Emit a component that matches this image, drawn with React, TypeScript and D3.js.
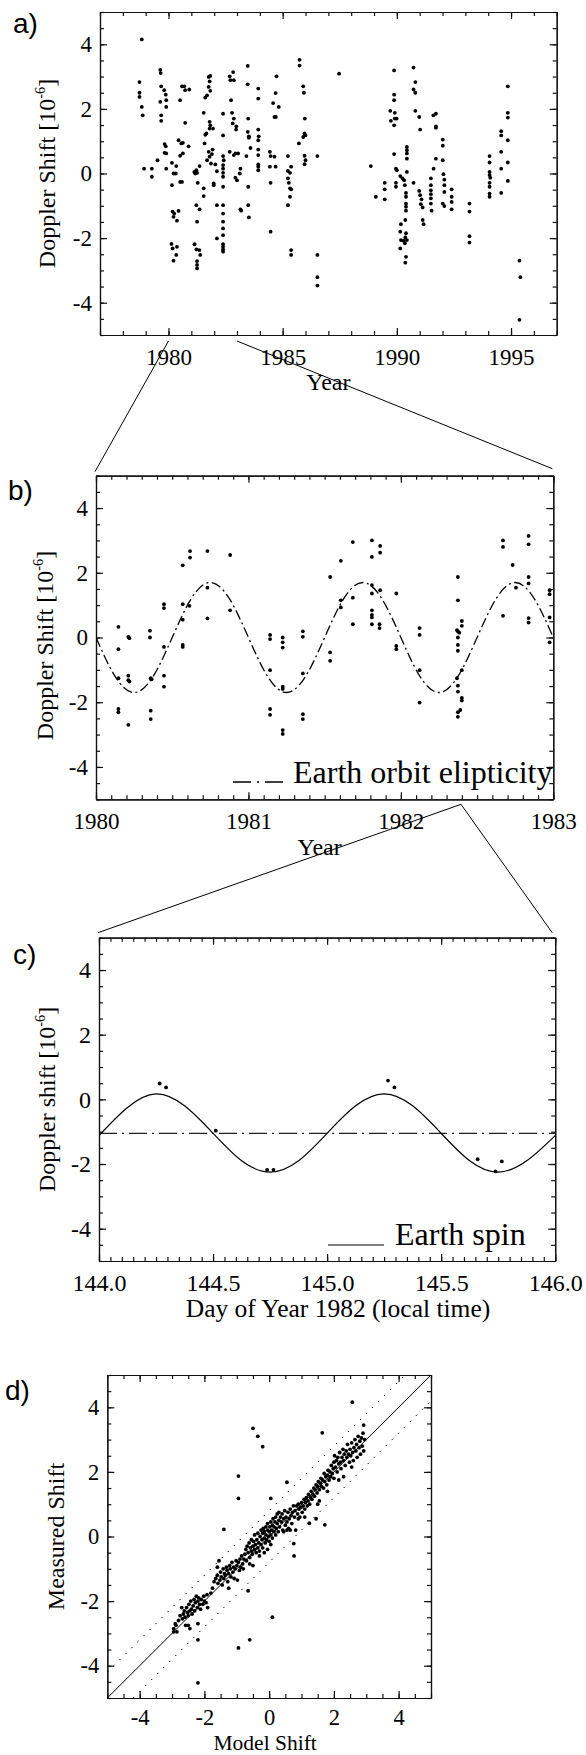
import { useEffect, useRef } from 'react';
import * as d3 from 'd3';

const WIDTH = 586;
const HEIGHT = 1755;
const SERIF = '"Liberation Serif", "Times New Roman", serif';
const SANS = '"Liberation Sans", Arial, sans-serif';

type Pt = [number, number];

// a) all observations, year vs doppler shift
const pointsA: Pt[] = [
  [1978.83, 4.15], [1978.73, 2.83], [1978.73, 2.5], [1978.73, 2.37], [1978.83, 2.06], [1978.87, 1.8],
  [1978.93, 0.15], [1979.27, 0.15], [1979.27, -0.1], [1979.52, 0.41], [1979.64, 3.21], [1979.66, 3.11],
  [1979.68, 2.7], [1979.64, 2.22], [1979.68, 1.8], [1979.68, 1.63], [1979.81, 2.58], [1979.88, 2.44],
  [1979.9, 2.27], [1979.9, 2.06], [1979.83, 0.91], [1979.88, 0.84], [1979.83, 0.64], [1979.9, 0.62],
  [1979.9, 0.15], [1980.15, 0.33], [1980.15, -0.36], [1980.22, 0.0], [1980.34, 0.23], [1980.32, 0.0],
  [1980.18, -1.18], [1980.25, -1.24], [1980.22, -1.34], [1980.37, -1.46], [1980.44, -1.16], [1980.13, -2.18],
  [1980.18, -2.32], [1980.37, -2.27], [1980.34, -2.52], [1980.22, -2.7], [1980.44, 1.03], [1980.56, 0.93],
  [1980.63, 0.95], [1980.51, -0.26], [1980.59, -0.26], [1980.51, 0.55], [1980.63, 0.62], [1980.59, 2.7],
  [1980.69, 2.7], [1980.73, 2.58], [1980.51, 2.27], [1980.73, 1.57], [1980.88, 0.84], [1980.91, 2.6],
  [1981.13, 0.05], [1981.17, 0.0], [1981.22, 0.1], [1981.25, 0.02], [1981.28, -0.29], [1981.22, -0.98],
  [1981.25, -1.49], [1981.14, -2.19], [1981.22, -2.35], [1981.35, -2.37], [1981.25, -2.71], [1981.25, -2.83],
  [1981.25, -2.94], [1981.36, -1.11], [1981.36, 0.23], [1981.39, -2.52], [1981.54, -0.46], [1981.54, -0.7],
  [1981.54, 1.88], [1981.61, 2.35], [1981.61, 1.2], [1981.66, 1.24], [1981.58, 0.93], [1981.69, 2.42],
  [1981.76, 2.99], [1981.8, 2.85], [1981.83, 3.02], [1981.76, 2.68], [1981.83, 2.56], [1981.8, 1.6],
  [1981.83, 1.49], [1981.8, 1.39], [1981.95, 1.39], [1981.69, 0.41], [1981.76, 0.67], [1981.8, 0.52],
  [1981.86, 0.31], [1981.93, 0.74], [1981.9, 0.6], [1981.98, -0.31], [1981.98, -0.36], [1982.05, 0.28],
  [1982.12, 0.07], [1982.12, -0.98], [1982.12, -2.01], [1982.39, 1.85], [1982.39, 1.18], [1982.39, 0.54],
  [1982.42, 0.41], [1982.39, 0.26], [1982.39, 0.15], [1982.39, 0.02], [1982.39, -0.1], [1982.39, -0.41],
  [1982.39, -0.98], [1982.39, -1.24], [1982.39, -1.49], [1982.39, -1.7], [1982.39, -1.91], [1982.39, -2.19],
  [1982.39, -2.27], [1982.39, -2.35], [1982.39, -2.42], [1982.68, 3.01], [1982.71, 2.89], [1982.83, 3.14],
  [1982.86, 2.89], [1982.74, 2.27], [1982.78, 1.88], [1982.81, 1.55], [1982.86, 1.7], [1982.97, 1.46],
  [1982.96, 1.36], [1982.68, 0.67], [1982.86, 0.57], [1982.93, 0.62], [1983.05, 0.62], [1982.93, -0.13],
  [1983.0, -0.21], [1983.12, 0.0], [1983.15, 0.15], [1983.15, -1.11], [1983.18, -1.15], [1983.47, 3.33],
  [1983.47, 2.76], [1983.49, 1.7], [1983.47, 1.29], [1983.52, 1.15], [1983.52, 1.11], [1983.41, 0.54],
  [1983.59, 0.79], [1983.49, -0.41], [1983.49, -0.98], [1983.52, -1.36], [1983.93, 2.63], [1983.93, 2.32],
  [1983.93, 1.36], [1983.95, 1.15], [1983.93, 1.03], [1983.93, 0.74], [1983.93, 0.57], [1983.93, 0.28],
  [1983.93, 0.21], [1983.93, 0.1], [1984.44, 0.67], [1984.47, 0.54], [1984.64, 0.52], [1984.69, 0.21],
  [1984.44, 0.21], [1984.47, -0.29], [1984.47, -1.8], [1984.58, 2.18], [1984.69, 2.49], [1984.64, 1.75],
  [1984.7, 1.75], [1984.73, 3.01], [1984.83, 2.06],
  [1985.23, 0.54], [1985.23, 0.08], [1985.32, 0.02], [1985.37, 0.21], [1985.23, -0.15], [1985.27, -0.29],
  [1985.32, -0.46], [1985.37, -0.49], [1985.32, -0.72], [1985.23, -0.98], [1985.37, -2.37], [1985.37, -2.52],
  [1985.74, 3.52], [1985.74, 3.34], [1985.71, 0.93], [1985.9, 2.7], [1985.93, 2.5], [1985.97, 1.7],
  [1985.96, 1.24], [1986.0, 1.18], [1985.9, 1.13], [1985.96, 0.55], [1986.0, 0.41], [1985.96, 0.29],
  [1986.52, 0.54], [1986.52, -2.52], [1986.52, -3.21], [1986.52, -3.47], [1987.47, 3.09], [1988.86, 0.23],
  [1989.08, -0.72], [1989.47, -0.29], [1989.47, -0.49], [1989.47, -0.8], [1989.71, 1.94], [1989.74, 1.63],
  [1989.88, 2.44], [1989.88, 2.27], [1989.91, 1.88], [1989.91, 1.7], [1989.99, 1.7], [1989.88, 1.49],
  [1989.88, 3.19], [1989.88, 0.6], [1989.96, 0.15], [1990.0, 0.1], [1989.96, -0.29], [1989.96, -0.41],
  [1990.15, -0.08], [1990.18, -1.57], [1990.15, -1.8], [1990.18, -2.06], [1990.15, -2.32], [1990.25, -0.15],
  [1990.32, -0.21], [1990.35, -0.36], [1990.4, -0.6], [1990.4, -0.72], [1990.4, -0.93], [1990.4, -1.03],
  [1990.4, -1.15], [1990.37, -1.44], [1990.4, -1.85], [1990.37, -1.98], [1990.44, -2.06], [1990.29, -2.08],
  [1990.35, -2.16], [1990.4, -2.58], [1990.37, -2.76], [1990.44, 0.82], [1990.44, 0.72], [1990.44, 0.62],
  [1990.44, 0.46], [1990.44, 0.05], [1990.73, 3.28], [1990.81, 2.83], [1990.73, 2.6], [1990.81, 2.5],
  [1990.81, 1.94], [1990.98, 1.75], [1991.02, 1.36], [1990.73, -0.29], [1990.98, -0.54], [1991.02, -0.67],
  [1991.08, -0.8], [1991.05, -0.95], [1991.13, -1.05], [1991.13, -1.44], [1991.17, -1.57], [1991.49, -0.15],
  [1991.49, -0.36], [1991.49, -0.52], [1991.49, -0.64], [1991.49, -0.77], [1991.49, -0.93], [1991.52, -1.15],
  [1991.61, 0.15], [1991.6, 1.8], [1991.71, 1.85], [1991.71, 1.46], [1991.71, 1.42], [1991.71, 0.46],
  [1992.01, 1.05], [1992.01, 0.86], [1992.01, 0.41], [1992.04, -0.02], [1992.08, -0.19], [1992.08, -0.36],
  [1992.08, -0.57], [1992.01, -0.93], [1992.08, -1.01], [1992.4, -0.49], [1992.4, -0.72], [1992.4, -0.88],
  [1992.4, -1.11], [1993.18, -0.93], [1993.18, -1.18], [1993.18, -1.94], [1993.18, -2.14], [1994.06, 0.54],
  [1994.06, 0.34], [1994.06, 0.05], [1994.06, -0.05], [1994.09, -0.13], [1994.06, -0.29], [1994.06, -0.41],
  [1994.06, -0.62], [1994.06, -0.72], [1994.57, 1.31], [1994.57, 1.18], [1994.57, 0.67], [1994.57, 0.15],
  [1994.57, -0.6], [1994.86, 2.7], [1994.86, 1.88], [1994.86, 1.73], [1994.86, 1.03], [1994.86, 0.34],
  [1994.86, -0.23], [1995.37, -2.7], [1995.41, -3.21], [1995.37, -4.53],
];

// b) 1980-1983 close-up
const pointsB: Pt[] = [
  [1980.147, 0.33], [1980.147, -0.36], [1980.147, -1.26], [1980.147, -2.21], [1980.147, -2.31],
  [1980.212, 0.02], [1980.219, -0.02], [1980.212, -1.18], [1980.212, -1.32], [1980.219, -1.36], [1980.212, -2.7],
  [1980.354, 0.21], [1980.354, 0.0], [1980.359, -1.26], [1980.365, -1.29], [1980.359, -2.26], [1980.359, -2.52],
  [1980.446, 1.03], [1980.446, 0.91], [1980.446, -0.29], [1980.446, -1.18], [1980.446, -1.52],
  [1980.569, 2.23], [1980.569, 1.03], [1980.569, 0.55], [1980.569, -0.23], [1980.569, -0.29],
  [1980.617, 2.67], [1980.617, 2.47], [1980.613, 0.98], [1980.731, 2.67], [1980.731, 1.54], [1980.731, 0.59],
  [1980.88, 2.55], [1980.88, 0.84], [1981.142, 0.08], [1981.142, -0.05], [1981.142, -1.01], [1981.142, -2.21],
  [1981.142, -2.39], [1981.225, 0.0], [1981.225, -0.15], [1981.225, -0.31], [1981.225, -1.52], [1981.225, -1.59],
  [1981.225, -2.86], [1981.225, -2.98], [1981.357, 0.19], [1981.357, 0.02], [1981.357, -1.11], [1981.357, -2.37],
  [1981.357, -2.52], [1981.536, 1.87], [1981.536, -0.46], [1981.536, -0.72], [1981.606, 2.37], [1981.606, 1.15],
  [1981.606, 0.93], [1981.685, 2.95], [1981.685, 1.23], [1981.685, 0.41], [1981.81, 3.0], [1981.864, 2.83],
  [1981.864, 2.62], [1981.81, 2.49], [1981.81, 1.62], [1981.864, 1.46], [1981.81, 1.36], [1981.81, 0.84],
  [1981.81, 0.7], [1981.81, 0.62], [1981.81, 0.41], [1981.86, 0.41], [1981.86, 0.29], [1981.97, 1.36],
  [1981.97, -0.26], [1981.97, -0.36], [1982.123, 0.29], [1982.123, 0.08], [1982.123, -1.01], [1982.123, -2.01],
  [1982.374, 1.87], [1982.374, 1.15], [1982.368, 0.23], [1982.374, 0.19], [1982.383, 0.15], [1982.374, 0.0],
  [1982.374, -0.23], [1982.374, -0.41], [1982.368, -1.26], [1982.374, -1.49], [1982.374, -1.67], [1982.4, 0.51],
  [1982.4, 0.36], [1982.4, -1.01], [1982.4, -1.87], [1982.4, -1.95], [1982.374, -2.31], [1982.374, -2.45],
  [1982.39, -2.24], [1982.67, 3.0], [1982.67, 2.8], [1982.67, 0.67], [1982.733, 2.24], [1982.755, 1.54],
  [1982.838, 3.14], [1982.838, 2.88], [1982.838, 1.87], [1982.838, 1.67], [1982.838, 0.6], [1982.838, 0.46],
  [1982.976, 1.46], [1982.976, 1.34], [1982.976, 0.62], [1982.976, -0.15],
];

// b) earth orbit ellipticity model, read every 1/8 year
const orbitModel: Pt[] = [
  [1980.0, 0], [1980.125, -1.2], [1980.25, -1.7], [1980.375, -1.2], [1980.5, 0], [1980.625, 1.2],
  [1980.75, 1.7], [1980.875, 1.2], [1981.0, 0], [1981.125, -1.2], [1981.25, -1.7], [1981.375, -1.2],
  [1981.5, 0], [1981.625, 1.2], [1981.75, 1.7], [1981.875, 1.2], [1982.0, 0], [1982.125, -1.2],
  [1982.25, -1.7], [1982.375, -1.2], [1982.5, 0], [1982.625, 1.2], [1982.75, 1.7], [1982.875, 1.2],
  [1983.0, 0],
];

// c) two days in 1982
const pointsC: Pt[] = [
  [144.266, 0.49], [144.294, 0.37], [144.512, -0.97], [144.737, -2.18], [144.765, -2.18],
  [145.267, 0.58], [145.295, 0.37], [145.66, -1.85], [145.738, -2.23], [145.766, -1.92],
];
const spinModel: Pt[] = [
  [144.0, -1.12], [144.125, -0.25], [144.25, 0.17], [144.375, -0.2], [144.5, -1.05], [144.625, -1.9],
  [144.75, -2.25], [144.875, -1.9], [145.0, -1.05], [145.125, -0.2], [145.25, 0.17], [145.375, -0.2],
  [145.5, -1.05], [145.625, -1.9], [145.75, -2.25], [145.875, -1.9], [146.0, -1.12],
];
const orbitLevelC: Pt[] = [[144.0, -1.05], [146.0, -1.05]];

// d) measured vs model
const pointsD: Pt[] = [
  [-2.95, -2.95], [-2.95, -2.85], [-2.9, -2.7], [-2.88, -2.75], [-2.85, -2.95], [-2.8, -2.6], [-2.75, -2.45],
  [-2.7, -2.2], [-2.68, -2.55], [-2.65, -2.4], [-2.62, -2.3], [-2.6, -2.5], [-2.58, -2.75], [-2.55, -2.2],
  [-2.52, -2.35], [-2.5, -2.45], [-2.48, -2.1], [-2.45, -2.3], [-2.42, -2.0], [-2.4, -2.25], [-2.38, -2.4],
  [-2.35, -2.15], [-2.32, -1.95], [-2.3, -2.3], [-2.28, -2.05], [-2.25, -1.85], [-2.22, -2.2], [-2.2, -2.0],
  [-2.2, -2.7], [-2.18, -1.9], [-2.15, -2.1], [-2.12, -2.25], [-2.1, -1.95], [-2.05, -2.1], [-2.02, -1.85],
  [-2.0, -2.0], [-1.95, -2.05], [-1.92, -1.8], [-1.9, -2.2], [-2.5, -2.75], [-2.45, -2.85],
  [-1.8, -1.75], [-1.75, -1.6], [-1.7, -1.4], [-1.65, -1.3], [-1.6, -1.2], [-1.58, -1.45], [-1.55, -0.75],
  [-1.52, -1.35], [-1.5, -1.1], [-1.48, -1.25], [-1.45, -1.5], [-1.42, -1.0], [-1.4, -1.3], [-1.38, -1.15],
  [-1.35, -1.2], [-1.32, -0.95], [-1.3, -1.05], [-1.28, -1.4], [-1.25, -1.15], [-1.22, -0.9], [-1.2, -1.0],
  [-1.18, -1.25], [-1.15, -0.8], [-1.12, -1.1], [-1.1, -0.95], [-1.08, -1.3], [-1.05, -1.0], [-1.02, -0.75],
  [-1.0, -0.9], [-0.98, -1.35], [-0.95, -0.8], [-0.92, -1.05], [-0.9, -0.7], [-0.88, -0.95], [-0.85, -0.6],
  [-0.82, -0.85], [-0.8, -1.0], [-0.78, -0.7], [-1.6, -0.95], [-1.25, -1.6],
  [-0.75, -0.55], [-0.72, -0.4], [-0.7, -0.75], [-0.68, -0.3], [-0.65, -0.5], [-0.62, -0.2], [-0.6, -0.65],
  [-0.58, -0.35], [-0.55, -0.45], [-0.55, -0.1], [-0.52, -0.55], [-0.5, -0.3], [-0.48, -0.15], [-0.45, -0.4],
  [-0.45, 0.05], [-0.42, -0.25], [-0.4, -0.5], [-0.38, -0.1], [-0.35, -0.35], [-0.35, 0.1], [-0.32, -0.2],
  [-0.3, -0.45], [-0.28, 0.0], [-0.25, -0.25], [-0.25, 0.2], [-0.22, -0.1], [-0.2, 0.1], [-0.2, -0.35],
  [-0.18, 0.25], [-0.15, -0.05], [-0.15, 0.15], [-0.12, -0.2], [-0.1, 0.3], [-0.1, 0.05], [-0.08, -0.1],
  [-0.05, 0.2], [-0.05, 0.4], [-0.02, 0.0], [0.0, 0.15], [0.0, -0.15], [0.02, 0.3], [0.05, 0.05], [0.05, 0.45],
  [0.08, 0.2], [0.1, 0.35], [0.1, -0.05], [0.12, 0.55], [0.15, 0.15], [0.15, 0.3], [0.18, 0.45], [0.2, 0.05],
  [0.2, 0.6], [0.22, 0.25], [0.25, 0.4], [0.25, 0.7], [0.28, 0.15], [0.3, 0.5], [0.3, 0.75], [0.32, 0.3],
  [0.35, 0.6], [-0.6, -0.85], [-0.5, -0.9], [-0.3, -0.6], [-0.15, -0.5], [-0.05, -0.4], [0.05, -0.25],
  [0.38, 0.45], [0.4, 0.7], [0.42, 0.2], [0.45, 0.55], [0.48, 0.8], [0.5, 0.35], [0.52, 0.6], [0.55, 0.45],
  [0.58, 0.75], [0.6, 0.25], [0.62, 0.55], [0.65, 0.85], [0.68, 0.65], [0.7, 0.4], [0.72, 0.75], [0.75, 0.95],
  [0.78, 0.6], [0.8, 0.8], [0.82, 0.2], [0.85, 0.95], [0.88, 0.7], [0.9, 1.0], [0.92, 0.85], [0.95, 0.6],
  [0.98, 0.9], [1.0, 1.05], [1.02, 0.75], [1.05, 0.95], [1.08, 1.15], [1.1, 0.85], [1.12, 1.05], [1.15, 1.2],
  [1.18, 0.95], [1.2, 1.1], [0.45, 0.15], [0.55, 0.2], [0.65, 0.2], [0.9, 0.55], [1.1, 0.6],
  [1.22, 1.3], [1.25, 1.0], [1.28, 1.2], [1.3, 1.4], [1.32, 1.15], [1.35, 1.3], [1.38, 1.5], [1.4, 1.25],
  [1.42, 1.45], [1.45, 1.6], [1.48, 1.35], [1.5, 1.55], [1.52, 1.7], [1.55, 1.45], [1.58, 1.65], [1.6, 1.8],
  [1.62, 1.55], [1.65, 1.75], [1.68, 1.5], [1.7, 1.95], [1.72, 1.7], [1.75, 1.85], [1.78, 1.6], [1.8, 1.9],
  [1.82, 2.05], [1.85, 1.75], [1.88, 2.0], [1.9, 1.85], [1.92, 2.2], [1.95, 1.95], [1.98, 2.1], [1.5, 1.0],
  [1.55, 1.1], [1.8, 1.4], [1.45, 0.55],
  [2.0, 2.3], [2.02, 2.5], [2.05, 2.15], [2.08, 2.35], [2.1, 2.0], [2.12, 2.45], [2.15, 2.25], [2.18, 2.6],
  [2.2, 2.3], [2.22, 2.1], [2.25, 2.45], [2.28, 2.7], [2.3, 2.35], [2.32, 2.55], [2.35, 2.2], [2.38, 2.65],
  [2.4, 2.45], [2.42, 2.85], [2.45, 2.55], [2.48, 2.3], [2.5, 2.7], [2.52, 2.5], [2.55, 2.9], [2.58, 2.6],
  [2.6, 2.35], [2.62, 2.75], [2.65, 3.0], [2.68, 2.65], [2.7, 2.85], [2.72, 2.45], [2.75, 3.1], [2.78, 2.75],
  [2.8, 2.95], [2.82, 2.55], [2.85, 3.05], [2.88, 2.8], [2.9, 3.2], [2.92, 2.65], [2.95, 3.0], [2.3, 1.85],
  [2.55, 2.15], [2.15, 1.75], [2.0, 1.8], [2.92, 3.45],
  [-0.5, 3.35], [-0.35, 3.1], [-0.2, 2.78], [-0.95, 1.87], [-0.95, 1.18], [-1.4, 0.22], [0.05, 1.18],
  [0.55, 1.68], [-0.65, -1.68], [0.1, -2.5], [-0.6, -3.2], [-0.95, -3.45], [-2.2, -3.2], [-2.2, -4.53],
  [2.57, 4.16], [1.64, 3.21], [0.77, -0.6], [0.76, -0.22], [1.72, 0.36], [1.24, 0.41],
];
const identityLine: Pt[] = [[-5, -5], [5, 5]];
const upperBand: Pt[] = [[-5, -4.2], [4.2, 5]];
const lowerBand: Pt[] = [[-4.2, -5], [5, 4.2]];

const yearTicksA = [1980, 1985, 1990, 1995];
const yearTicksB = [1980, 1981, 1982, 1983];
const dayTicksC = [144.0, 144.5, 145.0, 145.5, 146.0];
const shiftTicks = [-4, -2, 0, 2, 4];

type Box = { left: number; right: number; top: number; bottom: number };
type Sel = d3.Selection<SVGGElement, unknown, null, undefined>;

const boxA: Box = { left: 100, right: 556.7, top: 12, bottom: 335 };
const boxB: Box = { left: 96, right: 553.3, top: 475.7, bottom: 799.3 };
const boxC: Box = { left: 99, right: 555.2, top: 937.7, bottom: 1261 };
const boxD: Box = { left: 107.3, right: 431, top: 1375, bottom: 1698 };

const plain = (d: d3.NumberValue) => String(d);

function frame(
  g: Sel,
  x: d3.ScaleLinear<number, number>,
  y: d3.ScaleLinear<number, number>,
  box: Box,
  xMajor: number[],
  xMinor: number[],
  xFmt: (d: d3.NumberValue) => string,
  fontSize = 23,
  labelGap = 30,
) {
  const yMinor = d3.range(-5, 5.01, 0.5);
  const none = () => '';
  const put = (t: string, axis: d3.Axis<d3.NumberValue>) =>
    g.append('g').attr('transform', t).call(axis as any);

  // minor ticks
  put(`translate(0,${box.bottom})`, d3.axisBottom(x).tickValues(xMinor).tickSize(-4).tickSizeOuter(0).tickFormat(none));
  put(`translate(0,${box.top})`, d3.axisTop(x).tickValues(xMinor).tickSize(-4).tickSizeOuter(0).tickFormat(none));
  put(`translate(${box.left},0)`, d3.axisLeft(y).tickValues(yMinor).tickSize(-4).tickSizeOuter(0).tickFormat(none));
  put(`translate(${box.right},0)`, d3.axisRight(y).tickValues(yMinor).tickSize(-4).tickSizeOuter(0).tickFormat(none));

  // major ticks with labels
  const b = put(`translate(0,${box.bottom})`, d3.axisBottom(x).tickValues(xMajor).tickSize(-7).tickSizeOuter(0).tickPadding(labelGap - 0.71 * fontSize).tickFormat(xFmt));
  put(`translate(0,${box.top})`, d3.axisTop(x).tickValues(xMajor).tickSize(-7).tickSizeOuter(0).tickFormat(none));
  const l = put(`translate(${box.left},0)`, d3.axisLeft(y).tickValues(shiftTicks).tickSize(-7).tickSizeOuter(0).tickPadding(8).tickFormat(plain));
  put(`translate(${box.right},0)`, d3.axisRight(y).tickValues(shiftTicks).tickSize(-7).tickSizeOuter(0).tickFormat(none));

  [b, l].forEach((s) => s.attr('font-family', SERIF).attr('font-size', fontSize));
  g.selectAll('.domain, .tick line').attr('stroke', '#111').attr('stroke-width', 1.2);
  g.selectAll('.tick text').attr('fill', '#000');
}

function yTitle(g: Sel, xPos: number, cy: number, label: string, size = 24) {
  const t = g
    .append('text')
    .attr('transform', `translate(${xPos},${cy}) rotate(-90)`)
    .attr('text-anchor', 'middle')
    .attr('font-family', SERIF)
    .attr('font-size', size);
  t.append('tspan').text(label);
  t.append('tspan').attr('font-size', size * 0.6).attr('dy', -size * 0.42).text('-6');
  t.append('tspan').attr('dy', size * 0.42).text(']');
}

function text(g: Sel, x: number, y: number, s: string, size = 24, anchor = 'middle', family = SERIF) {
  g.append('text')
    .attr('x', x)
    .attr('y', y)
    .attr('text-anchor', anchor)
    .attr('font-family', family)
    .attr('font-size', size)
    .text(s);
}

function dots(g: Sel, pts: Pt[], x: d3.ScaleLinear<number, number>, y: d3.ScaleLinear<number, number>) {
  g.append('g')
    .selectAll('circle')
    .data(pts)
    .join('circle')
    .attr('cx', (d) => x(d[0]))
    .attr('cy', (d) => y(d[1]))
    .attr('r', 1.9)
    .attr('fill', '#000');
}

const App = () => {
  const ref = useRef<SVGSVGElement | null>(null);

  useEffect(() => {
    if (!ref.current) return;
    const svg = d3.select(ref.current);
    svg.selectAll('*').remove();
    const root = svg.append('g') as Sel;

    const defs = svg.append('defs');
    const clip = (id: string, b: Box) =>
      defs
        .append('clipPath')
        .attr('id', id)
        .append('rect')
        .attr('x', b.left)
        .attr('y', b.top)
        .attr('width', b.right - b.left)
        .attr('height', b.bottom - b.top);
    clip('clipB', boxB);
    clip('clipC', boxC);
    clip('clipD', boxD);

    // ---- a
    const xA = d3.scaleLinear().domain([1977, 1997]).range([boxA.left, boxA.right]);
    const yA = d3.scaleLinear().domain([-5, 5]).range([boxA.bottom, boxA.top]);
    const gA = root.append('g') as Sel;
    frame(gA, xA, yA, boxA, yearTicksA, d3.range(1977, 1997.01, 1), plain);
    dots(gA, pointsA, xA, yA);
    yTitle(gA, 55, (boxA.top + boxA.bottom) / 2, 'Doppler Shift [10');
    text(gA, (boxA.left + boxA.right) / 2, boxA.bottom + 55, 'Year');
    text(gA, 13, 33, 'a)', 28, 'start', SANS);

    // ---- b
    const xB = d3.scaleLinear().domain([1980, 1983]).range([boxB.left, boxB.right]);
    const yB = d3.scaleLinear().domain([-5, 5]).range([boxB.bottom, boxB.top]);
    const gB = root.append('g') as Sel;
    frame(gB, xB, yB, boxB, yearTicksB, d3.range(1980, 1983.001, 0.1), plain);
    dots(gB, pointsB, xB, yB);
    const lineB = d3.line<Pt>().x((d) => xB(d[0])).y((d) => yB(d[1])).curve(d3.curveNatural);
    gB.append('path')
      .attr('d', lineB(orbitModel))
      .attr('clip-path', 'url(#clipB)')
      .attr('fill', 'none')
      .attr('stroke', '#000')
      .attr('stroke-width', 1.3)
      .attr('stroke-dasharray', '10,3.5,2,3.5');
    yTitle(gB, 53, (boxB.top + boxB.bottom) / 2 + 8, 'Doppler Shift [10');
    text(gB, (boxB.left + boxB.right) / 2 - 5, boxB.bottom + 56, 'Year');
    text(gB, 8, 500, 'b)', 28, 'start', SANS);
    gB.append('line')
      .attr('x1', 233).attr('x2', 283).attr('y1', 782).attr('y2', 782)
      .attr('stroke', '#000').attr('stroke-width', 1.3).attr('stroke-dasharray', '18,6,2,6');
    text(gB, 293, 783, 'Earth orbit elipticity', 32, 'start');

    // ---- c
    const xC = d3.scaleLinear().domain([144, 146]).range([boxC.left, boxC.right]);
    const yC = d3.scaleLinear().domain([-5, 5]).range([boxC.bottom, boxC.top]);
    const gC = root.append('g') as Sel;
    frame(gC, xC, yC, boxC, dayTicksC, d3.range(144, 146.001, 0.05), (d) => (+d).toFixed(1), 24);
    const lineC = d3.line<Pt>().x((d) => xC(d[0])).y((d) => yC(d[1])).curve(d3.curveNatural);
    gC.append('path')
      .attr('d', d3.line<Pt>().x((d) => xC(d[0])).y((d) => yC(d[1]))(orbitLevelC))
      .attr('fill', 'none').attr('stroke', '#222').attr('stroke-width', 1.2)
      .attr('stroke-dasharray', '18,5,2,5');
    gC.append('path')
      .attr('d', lineC(spinModel))
      .attr('clip-path', 'url(#clipC)')
      .attr('fill', 'none').attr('stroke', '#000').attr('stroke-width', 1.2);
    dots(gC, pointsC, xC, yC);
    yTitle(gC, 55, (boxC.top + boxC.bottom) / 2, 'Doppler shift [10');
    text(gC, 338, 1317, 'Day of Year 1982 (local time)', 25.5);
    text(gC, 13, 964, 'c)', 28, 'start', SANS);
    gC.append('line')
      .attr('x1', 328).attr('x2', 384).attr('y1', 1245).attr('y2', 1245)
      .attr('stroke', '#000').attr('stroke-width', 1.2);
    text(gC, 395, 1245, 'Earth spin', 32, 'start');

    // ---- d
    const xD = d3.scaleLinear().domain([-5, 5]).range([boxD.left, boxD.right]);
    const yD = d3.scaleLinear().domain([-5, 5]).range([boxD.bottom, boxD.top]);
    const gD = root.append('g') as Sel;
    frame(gD, xD, yD, boxD, shiftTicks, d3.range(-5, 5.01, 0.5), plain, 22.5, 27);
    const lineD = d3.line<Pt>().x((d) => xD(d[0])).y((d) => yD(d[1]));
    gD.append('path').attr('d', lineD(identityLine)).attr('stroke', '#000').attr('stroke-width', 1);
    [upperBand, lowerBand].forEach((band) =>
      gD.append('path')
        .attr('d', lineD(band))
        .attr('clip-path', 'url(#clipD)')
        .attr('stroke', '#000').attr('stroke-width', 1).attr('stroke-dasharray', '1.5,7'),
    );
    dots(gD, pointsD, xD, yD);
    gD.append('text')
      .attr('transform', `translate(64,${(boxD.top + boxD.bottom) / 2}) rotate(-90)`)
      .attr('text-anchor', 'middle').attr('font-family', SERIF).attr('font-size', 24)
      .attr('fill', '#000')
      .text('Measured Shift');
    text(gD, (boxD.left + boxD.right) / 2 - 4, 1750, 'Model Shift', 21.5);
    text(gD, 5, 1400, 'd)', 28, 'start', SANS);

    // ---- zoom connectors
    const conn = root.append('g').attr('stroke', '#000').attr('stroke-width', 1);
    const seg = (x1: number, y1: number, x2: number, y2: number) =>
      conn.append('line').attr('x1', x1).attr('y1', y1).attr('x2', x2).attr('y2', y2);
    seg(xA(1980), boxA.bottom + 6, boxB.left - 1, boxB.top - 4);
    seg(xA(1983), boxA.bottom + 6, boxB.right - 1, boxB.top - 7);
    const apex = xB(1982 + 144 / 365);
    seg(apex, boxB.bottom + 5, boxC.left - 1, boxC.top - 5);
    seg(apex, boxB.bottom + 5, boxC.right - 3, boxC.top - 5);
  }, []);

  return (
    <div style={{ position: 'absolute', left: 0, top: 0, background: '#fff' }}>
      <svg ref={ref} width={WIDTH} height={HEIGHT} role="img" aria-label="Doppler shift panels" />
    </div>
  );
};

export default App;
